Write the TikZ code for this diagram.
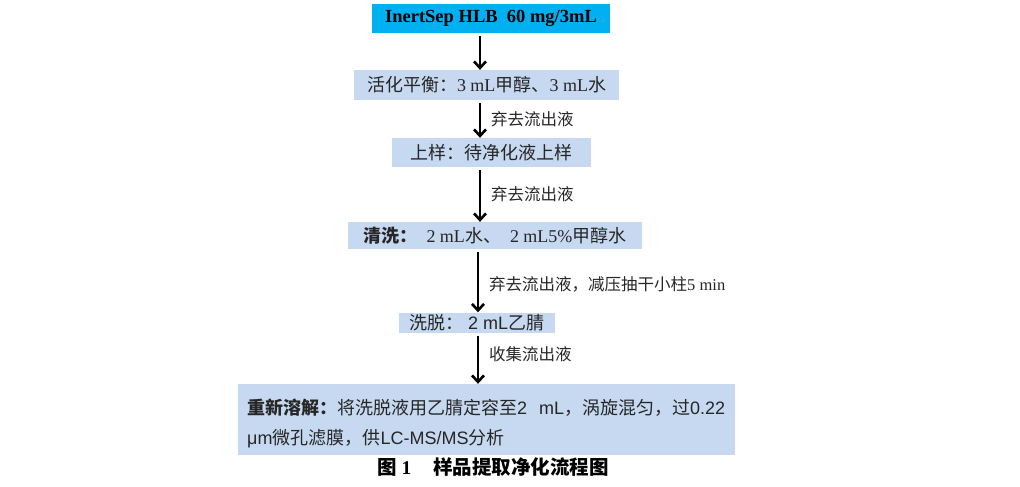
\documentclass[tikz,border=0pt]{standalone}
\usepackage{fontspec}
\setmainfont{Liberation Serif}
\newfontfamily\zhfont{Noto Sans CJK SC}
\newfontfamily\arialfont{Liberation Sans}
\newcommand{\zh}[1]{{\zhfont #1}}
\newcommand{\ar}[1]{{\arialfont #1}}
\usetikzlibrary{arrows.meta}
\definecolor{boxcyan}{RGB}{0,176,240}
\definecolor{boxblue}{RGB}{198,217,241}

\begin{document}
\begin{tikzpicture}[
        x=1pt, y=-1pt,
        stagebox/.style={fill=boxblue, inner sep=0pt, text=black!85, font=\fontsize{18}{20}\selectfont},
        topbox/.style={stagebox, fill=boxcyan, text=black, font=\fontsize{18.5}{20}\selectfont\bfseries},
        flow/.style={draw, line width=2.4pt, -{Straight Barb[length=6.5pt,width=12pt,line width=2.6pt]}, shorten <=3pt, shorten >=0pt},
        note/.style={right, xshift=10pt, inner sep=0pt, text=black!85, font=\fontsize{16.5}{18}\selectfont},
    ]
    \useasboundingbox (0,0) rectangle (1020,487);
    \coordinate (axis) at (480,0);
    \coordinate (axisb) at (478,0);

    \node[topbox, minimum width=238pt, minimum height=29pt](column) at (491,18.5)
        {InertSep HLB\ \ 60 mg/3mL};
    \node[stagebox, minimum width=265pt, minimum height=30pt](activate) at (486.5,85)
        {\zh{活化平衡：}3 mL\zh{甲醇、}3 mL\zh{水}};
    \node[stagebox, minimum width=199pt, minimum height=29pt](load) at (491.5,152.5)
        {\zh{上样：待净化液上样}};
    \node[stagebox, minimum width=294pt, minimum height=27pt](rinse) at (495,235.5)
        {\zh{\bfseries 清洗：}\ \ 2 mL\zh{水、}\ \ 2 mL5\%\zh{甲醇水}};
    \node[stagebox, minimum width=156pt, minimum height=20pt](elute) at (477,322.5)
        {\zh{洗脱：}\ \ar{2 mL}\zh{乙腈}};
    \node[stagebox, anchor=west, minimum height=71pt, text width=479pt, text height=23pt, inner xsep=9pt, align=left,
          font=\fontsize{18}{30}\selectfont](redissolve) at (238,419.5)
        {\zh{\bfseries 重新溶解：}\zh{将洗脱液用乙腈定容至}\ar{2\ \ mL}\zh{，涡旋混匀，过}\ar{0.22}\\
         \ar{μm}\zh{微孔滤膜，供}\ar{LC-MS/MS}\zh{分析}};

    \draw[flow] (column.south -| axis) -- (activate.north -| axis);
    \draw[flow] (activate.south -| axis) -- node[note]{\zh{弃去流出液}} (load.north -| axis);
    \draw[flow] (load.south -| axis) -- node[note]{\zh{弃去流出液}} (rinse.north -| axis);
    \draw[flow] (rinse.south -| axisb) -- node[note, yshift=-4pt]{\zh{弃去流出液，减压抽干小柱}5 min} (elute.north -| axisb);
    \draw[flow] (elute.south -| axisb) -- node[note, yshift=4pt]{\zh{收集流出液}} (redissolve.north -| axisb);

    \node[font=\fontsize{19.5}{22}\selectfont\bfseries](caption) at (493,467)
        {\zh{图} 1\hspace{22pt}\zh{样品提取净化流程图}};
\end{tikzpicture}
\end{document}
